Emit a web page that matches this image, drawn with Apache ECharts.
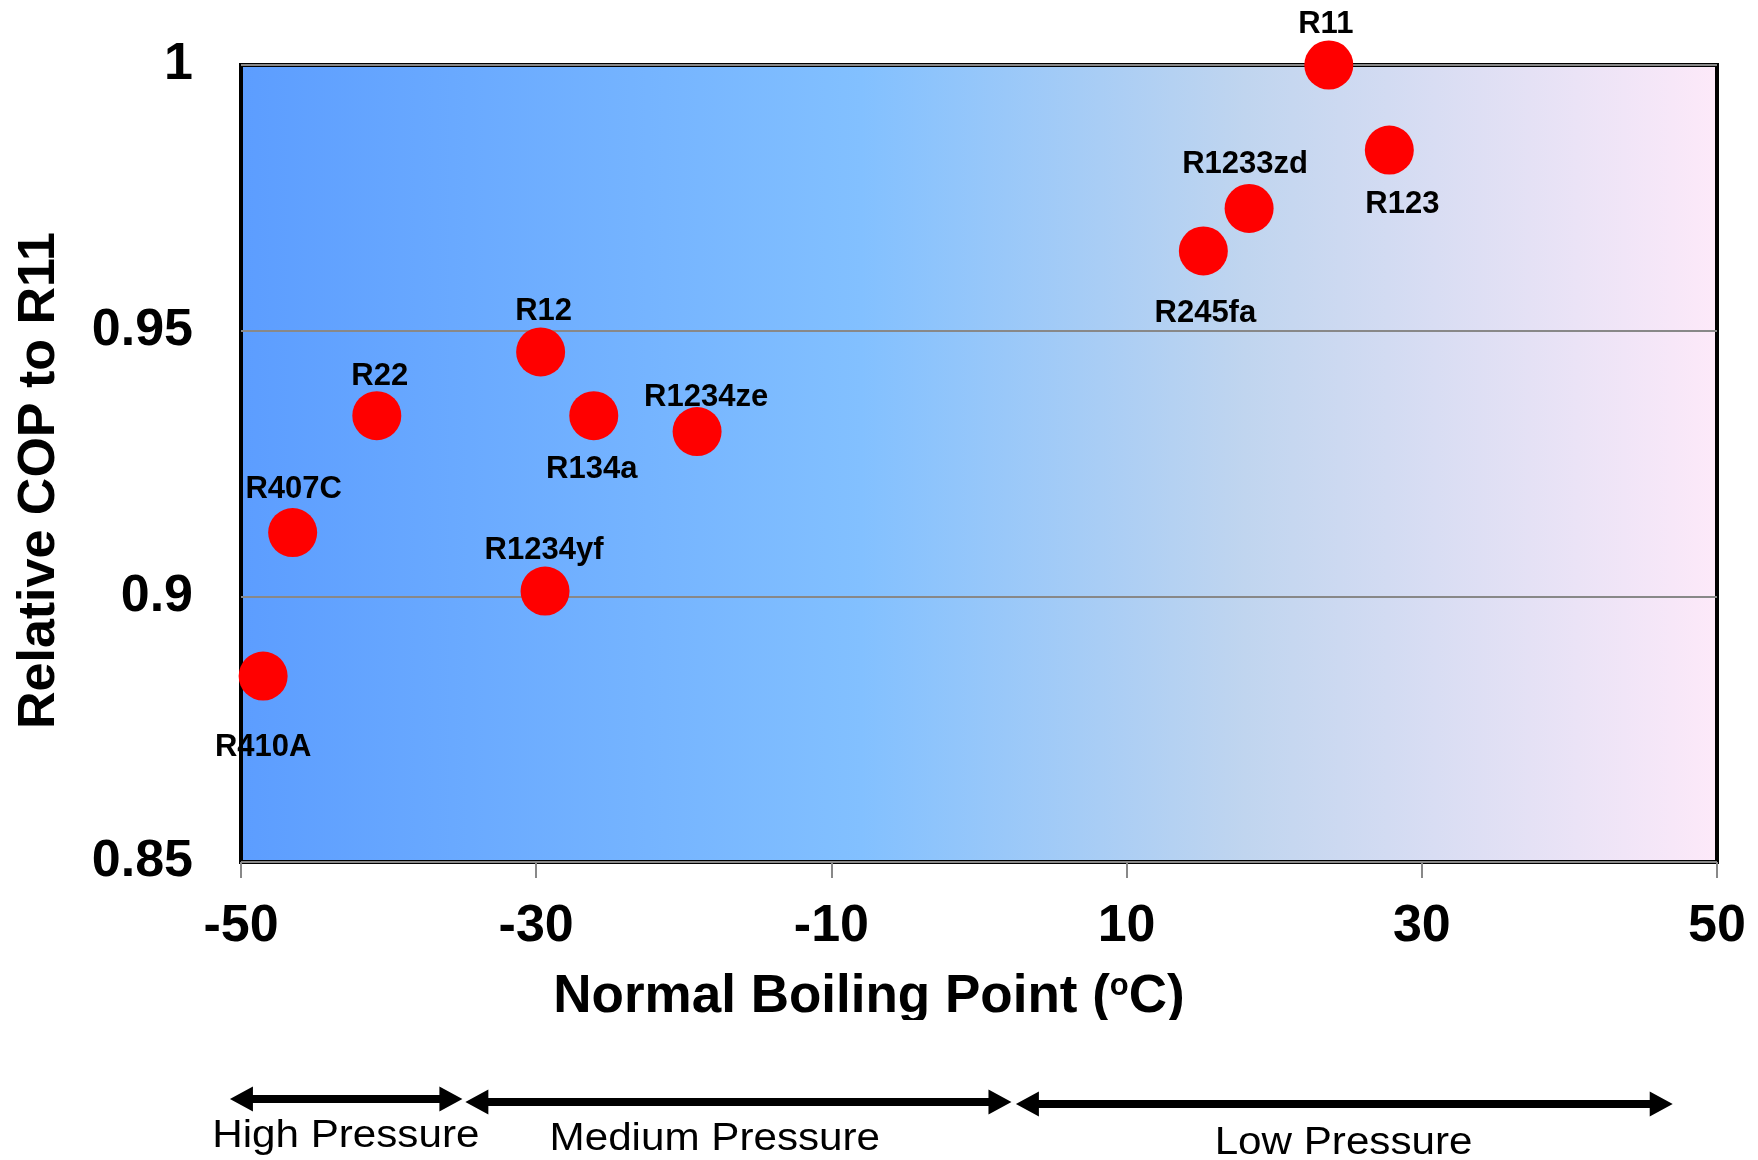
<!DOCTYPE html>
<html>
<head>
<meta charset="utf-8">
<script src="https://cdn.jsdelivr.net/npm/echarts@6/dist/echarts.min.js"></script>
<style>
html,body{margin:0;padding:0;background:#fff;}
#chart{width:1758px;height:1160px;}
</style>
</head>
<body>
<div id="chart"></div>
<script>
// ---- data ----
const refrigerants = ['R11','R123','R1233zd','R245fa','R12','R22','R134a','R1234ze','R407C','R1234yf','R410A'];
const boilingPoint = [23.7, 27.8, 18.3, 15.2, -29.7, -40.8, -26.1, -19.1, -46.5, -29.4, -48.5];
const relativeCOP  = [1.000, 0.984, 0.973, 0.965, 0.946, 0.934, 0.934, 0.931, 0.912, 0.901, 0.885];
const xTicks = [-50, -30, -10, 10, 30, 50];
const yTicks = [0.85, 0.9, 0.95, 1];
const pressureLabels = ['High Pressure', 'Medium Pressure', 'Low Pressure'];
const pressureStart = [-50.75, -34.8, 2.5];
const pressureEnd = [-35.0, 2.2, 47.0];
const pressureLabelAt = [-42.9, -17.9, 24.7];

// ---- label placement (layout, not data) ----
const labelOffsets = [[-3,-41],[13,54],[-4,-44],[2,62],[3,-40],[3,-39],[-2,54],[9,-34],[1,-43],[-1,-41],[0,71]];

const FONT = "'Liberation Sans', Arial, sans-serif";
const chart = echarts.init(document.getElementById('chart'), null, {renderer:'canvas'});

const points = refrigerants.map((n, i) => ({
  name: n,
  value: [boilingPoint[i], relativeCOP[i]],
  label: { offset: labelOffsets[i] }
}));

chart.setOption({
  backgroundColor: '#ffffff',
  animation: false,
  grid: {
    left: 241, top: 65, width: 1476, height: 797,
    show: true,
    borderColor: '#000', borderWidth: 4,
    backgroundColor: {
      type: 'linear', x: 0, y: 0, x2: 1, y2: 0,
      colorStops: [
        {offset: 0, color: '#5C9DFF'},
        {offset: 0.42, color: '#82C0FF'},
        {offset: 0.68, color: '#C0D5EF'},
        {offset: 1, color: '#FDE9F9'}
      ]
    }
  },
  xAxis: {
    type: 'value', min: xTicks[0], max: xTicks[xTicks.length-1], interval: 20,
    name: 'Normal Boiling Point ({sup|o}C)',
    nameLocation: 'middle', nameGap: 109,
    nameTextStyle: {
      fontFamily: FONT, fontWeight: 'bold', fontSize: 53, color: '#000',
      padding: [0, 220, 0, 0],
      rich: { sup: { fontFamily: FONT, fontWeight: 'bold', fontSize: 31, verticalAlign: 'top', color:'#000', padding:[0,0,14,0] } }
    },
    axisLine: { show: false },
    axisTick: { show: true, length: 16, lineStyle: { color: '#888', width: 2 } },
    axisLabel: { margin: 39, fontFamily: FONT, fontWeight: 'bold', fontSize: 52, color: '#000' },
    splitLine: { show: false }
  },
  yAxis: {
    type: 'value', min: yTicks[0], max: yTicks[yTicks.length-1], interval: 0.05,
    name: 'Relative COP to R11',
    nameLocation: 'middle', nameGap: 175,
    nameTextStyle: { fontFamily: FONT, fontWeight: 'bold', fontSize: 52, color: '#000', padding: [0, 34, 0, 0] },
    axisLine: { show: false },
    axisTick: { show: true, length: 15, lineStyle: { color: '#888', width: 2 } },
    axisLabel: { margin: 48, fontFamily: FONT, fontWeight: 'bold', fontSize: 52, color: '#000',
      formatter: v => String(Math.round(v*100)/100) },
    splitLine: { show: true, lineStyle: { color: '#888', width: 2 } }
  },
  series: [{
    type: 'scatter',
    clip: false,
    symbol: 'circle',
    symbolSize: 49,
    itemStyle: { color: '#FF0000', opacity: 1 },
    label: {
      show: true, position: 'inside',
      formatter: p => p.name,
      fontFamily: FONT, fontWeight: 'bold', fontSize: 31, color: '#000'
    },
    emphasis: { disabled: true },
    data: points
  }]
});

// pressure range arrows below the axis, placed through the x scale
const arrowY = [1099, 1102, 1104];
const textY = [1137, 1140, 1144];
const gfx = [];
pressureLabels.forEach((lab, i) => {
  const x1 = chart.convertToPixel({xAxisIndex: 0}, pressureStart[i]);
  const x2 = chart.convertToPixel({xAxisIndex: 0}, pressureEnd[i]);
  const xl = chart.convertToPixel({xAxisIndex: 0}, pressureLabelAt[i]);
  const y = arrowY[i], h = 4, hl = 23, hh = 12.5;
  gfx.push({
    type: 'polygon',
    shape: { points: [
      [x1, y], [x1+hl, y-hh], [x1+hl, y-h], [x2-hl, y-h], [x2-hl, y-hh],
      [x2, y], [x2-hl, y+hh], [x2-hl, y+h], [x1+hl, y+h], [x1+hl, y+hh]
    ]},
    style: { fill: '#000' }, z: 50
  });
  gfx.push({
    type: 'text', x: xl, y: textY[i], scaleX: 1.11, z: 50,
    style: { text: lab, x: 0, y: 0, font: "38px 'Liberation Sans', Arial, sans-serif",
      fill: '#000', textAlign: 'center', textVerticalAlign: 'middle', align: 'center', verticalAlign: 'middle' }
  });
});
// the original axis title is cut off just below its baseline
gfx.push({ type: 'rect', shape: { x: 520, y: 1020, width: 700, height: 45 }, style: { fill: '#fff' }, z: 100 });
chart.setOption({ graphic: gfx });
</script>
</body>
</html>
